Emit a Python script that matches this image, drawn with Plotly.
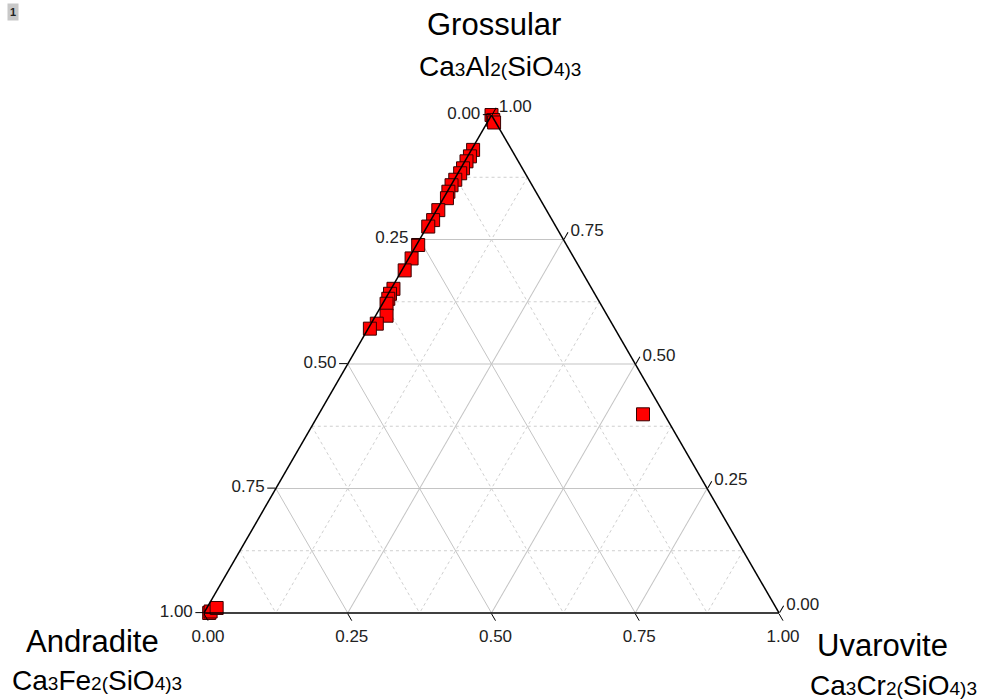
import plotly.graph_objects as go

# ---- data (fractions: Grossular = a, Andradite = b, Uvarovite = c) ----
grossular = [1.000, 0.990, 0.985, 0.930, 0.917, 0.907, 0.893, 0.883, 0.870, 0.859,
             0.846, 0.833, 0.809, 0.789, 0.776, 0.739, 0.712, 0.688, 0.651, 0.641,
             0.631, 0.621, 0.597, 0.581, 0.571, 0.000, 0.003, 0.010, 0.399]
uvarovite = [0.000, 0.008, 0.012, 0.003, 0.004, 0.003, 0.004, 0.004, 0.002, 0.001,
             0.002, 0.006, 0.003, 0.004, 0.002, 0.003, 0.005, 0.005, 0.004, 0.003,
             0.005, 0.007, 0.019, 0.010, 0.003, 0.009, 0.010, 0.017, 0.564]
andradite = [round(1 - g - u, 3) for g, u in zip(grossular, uvarovite)]

major_vals = [0, 0.25, 0.5, 0.75, 1]
major_text = ["1.00", "0.75", "0.50", "0.25", "0.00"]   # labels read as the complementary fraction
minor_vals = [0.125, 0.375, 0.625, 0.875]

W, H = 986, 700

fig = go.Figure()

# minor dotted grid lines
grid_style = dict(color="#cfcfcf", width=1, dash="dot")
for v in minor_vals:
    fig.add_trace(go.Scatterternary(a=[v, v], b=[1 - v, 0], c=[0, 1 - v], mode="lines",
                                    line=grid_style, hoverinfo="skip", showlegend=False))
    fig.add_trace(go.Scatterternary(a=[1 - v, 0], b=[v, v], c=[0, 1 - v], mode="lines",
                                    line=grid_style, hoverinfo="skip", showlegend=False))
    fig.add_trace(go.Scatterternary(a=[1 - v, 0], b=[0, 1 - v], c=[v, v], mode="lines",
                                    line=grid_style, hoverinfo="skip", showlegend=False))

fig.add_trace(go.Scatterternary(
    a=grossular, b=andradite, c=uvarovite, mode="markers",
    marker=dict(symbol="square", size=13, color="#ff0000",
                line=dict(color="#3a0000", width=1)),
    showlegend=False, cliponaxis=False))

axis_common = dict(
    tickmode="array", tickvals=major_vals, ticktext=major_text,
    showline=True, linecolor="black", linewidth=1.5,
    showgrid=True, gridcolor="#c4c4c4", gridwidth=1,
    ticks="outside", ticklen=8, tickcolor="black", tickwidth=1.2,
    tickfont=dict(family="Liberation Sans, Arial, sans-serif", size=17, color="#222"),
    title=dict(text=""),
)

fig.update_layout(
    width=W, height=H,
    margin=dict(l=0, r=0, t=0, b=0),
    paper_bgcolor="white",
    ternary=dict(
        sum=1,
        bgcolor="white",
        domain=dict(x=[204 / W, 779 / W], y=[(H - 613) / H, (H - 115) / H]),
        aaxis=axis_common,
        baxis=axis_common,
        caxis=axis_common,
    ),
    font=dict(family="Liberation Sans, Arial, sans-serif", color="black"),
)

small = "<span style='font-size:19px'>{}</span>"
def formula(metal):
    return ("Ca" + small.format("3") + metal + small.format("2(") + "SiO" + small.format("4)3"))

ann = [
    ("Grossular", 494, 25, 31),
    (formula("Al"), 500, 66, 28),
    ("Andradite", 92, 641, 31),
    (formula("Fe"), 97, 680, 28),
    ("Uvarovite", 882, 645, 31),
    (formula("Cr"), 893, 685, 28),
]
for text, px, py, size in ann:
    fig.add_annotation(text=text, x=px / W, y=1 - py / H, xref="paper", yref="paper",
                       xanchor="center", yanchor="middle", showarrow=False,
                       font=dict(size=size, color="black"))

fig.add_annotation(text="<b>1</b>", x=13 / W, y=1 - 12 / H, xref="paper", yref="paper",
                   xanchor="center", yanchor="middle", showarrow=False,
                   font=dict(size=11, color="#222"), bgcolor="#c8c8c8", borderpad=2)

fig.write_html("out.html")
